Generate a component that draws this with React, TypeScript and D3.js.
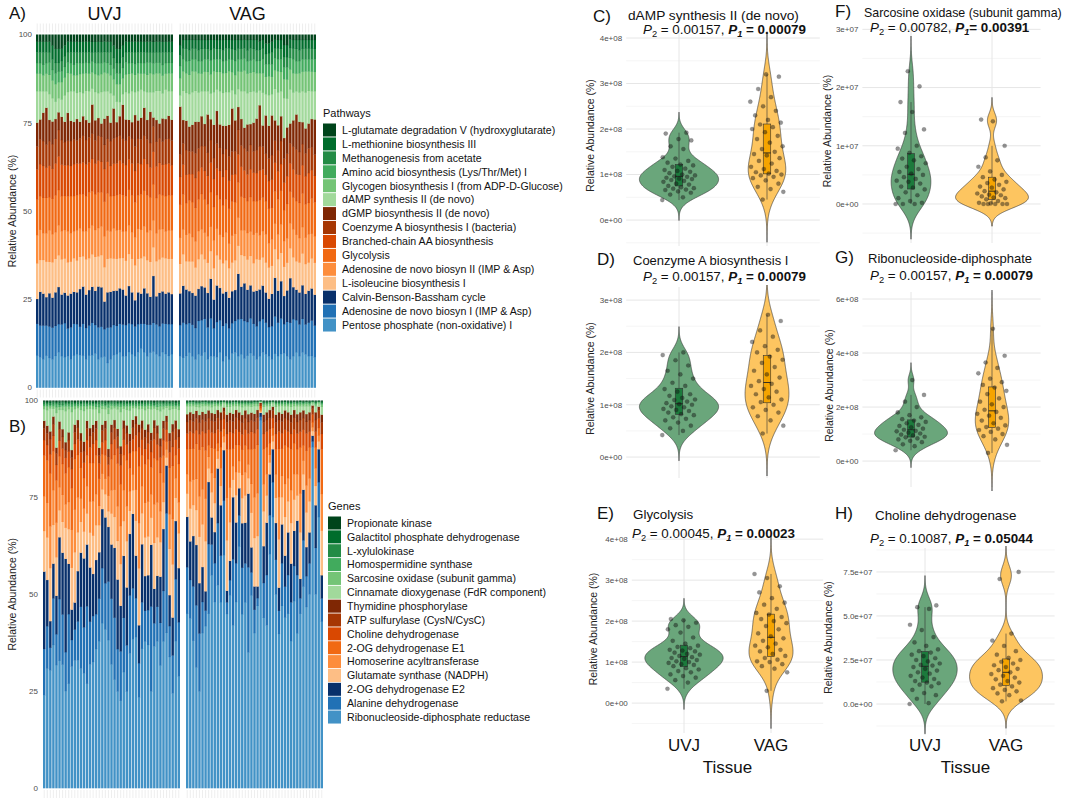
import React, { useRef, useEffect } from "react";
import * as d3 from "d3";

const FONT = "'Liberation Sans', Arial, sans-serif";

// ---------- stacked bar panels (legend order: top of stack first) ----------
const pathwayNames = [
  "L-glutamate degradation V (hydroxyglutarate)",
  "L-methionine biosynthesis III",
  "Methanogenesis from acetate",
  "Amino acid biosynthesis (Lys/Thr/Met) I",
  "Glycogen biosynthesis I (from ADP-D-Glucose)",
  "dAMP synthesis II (de novo)",
  "dGMP biosynthesis II (de novo)",
  "Coenzyme A biosynthesis I (bacteria)",
  "Branched-chain AA biosynthesis",
  "Glycolysis",
  "Adenosine de novo biosyn II (IMP & Asp)",
  "L-isoleucine biosynthesis I",
  "Calvin-Benson-Bassham cycle",
  "Adenosine de novo biosyn I (IMP & Asp)",
  "Pentose phosphate (non-oxidative) I",
];
const geneNames = [
  "Propionate kinase",
  "Galactitol phosphate dehydrogenase",
  "L-xylulokinase",
  "Homospermidine synthase",
  "Sarcosine oxidase (subunit gamma)",
  "Cinnamate dioxygenase (FdR component)",
  "Thymidine phosphorylase",
  "ATP sulfurylase (CysN/CysC)",
  "Choline dehydrogenase",
  "2-OG dehydrogenase E1",
  "Homoserine acyltransferase",
  "Glutamate synthase (NADPH)",
  "2-OG dehydrogenase E2",
  "Alanine dehydrogenase",
  "Ribonucleoside-diphosphate reductase",
];
const stackColors = [
  "#00441b", "#006d2c", "#238b45", "#41ab5d", "#74c476", "#a1d99b",
  "#7f2704", "#a63603", "#d94801", "#f16913", "#fd8d3c", "#fdbe85",
  "#08306b", "#2171b5", "#4292c6",
];
const tissues = ["UVJ", "VAG"];
const stackTicks = [0, 25, 50, 75, 100];

// Panel A, UVJ samples (rows follow pathwayNames)
const pathwaysUVJ: number[][] = [
  [2,2,2,2,2,3,4,4,4,3,2,2,2,2,2, 2,2,2,2,2,2,2,2,2,2,3,4,4,3,2, 2,2,2,2,2,2,2,2,2,2,2,2,2,2,2],
  [3,3,3,3,3,4,4,4,3.5,3,3,3,3,3,3, 3,3,3,3,3,3,3,3,3,3,3.5,4,4,3.5,3, 3,3,3,3,3,3,3,3,3,3,3,3,3,3,3],
  [3,3,3.5,3,3,3,3,2.5,3,3,3,3,3.5,3,3, 3,3,3,2.5,3,3,3,3,3,3.5,3,3,3,3,3, 3,3,3.5,3,3,3,3,3,3,3,3,3.5,3,3,3],
  [3,3,3,3,3.5,3,3,3,3,3,3,3,3,3.5,3, 3,3,3,3,3,3.5,3,3,3,3,3,3,3,3,3.5, 3,3,3,3,3,3,3.5,3,3,3,3,3,3,3,3],
  [5,5,4.5,5,5.5,5,5,4.5,5,5,5.5,5,4.5,5,5, 5.5,5,5,4.5,5,5,5,5.5,5,5,4.5,5,5,4.5,5, 5.5,5,5,5,4.5,5,5,5.5,5,5,5,5,4.5,5,5],
  [8.8,7.9,6,4.6,7.4,6.6,4.9,4,4.9,7.3,6,8.3,8.6,7.4,8.3, 6.5,8.3,8.8,4.4,7.9,7,8.8,7.9,7,8.3,3.6,5.8,4,3,7.9, 7.4,8.8,6.5,8.3,7.9,4.6,7.9,5.6,7,8.3,9.3,7,8.3,7,8.1],
  [6.7,5.6,8,10.4,6.1,6.4,5.6,5,6.6,5.7,8,5.7,4.9,6.1,4.7, 5.5,5.7,4.2,8.1,5.6,5,3.7,7.6,6.5,5.2,8.4,4.2,5.5,9.7,6.1, 4.6,4.7,9,5.2,6.1,7.9,5.6,8.9,2.5,6.2,4.2,6.5,5.7,6.5,5.9],
  [6.5,7,7,6.5,7,7,7,7.5,7,6.5,7,7,7,6.5,7, 7.5,7,7,7,6.5,7,7,7,6.5,7,7,7.5,7,7,7, 6.5,7,7,7,7,6.5,7,7,7,7,7,6.5,7,7,7],
  [8.5,9,9,8.5,9,8.5,9,9.5,9,8.5,9,8.5,9,9,8.5, 9,9,8.5,9,8.5,9,8.5,9.5,9,8.5,9,9,9.5,9,9, 8.5,9,9,9,8.5,9,9,8.5,9,9,9,8.5,9,9,8.5],
  [10,9.5,10,10,9.5,10,10.5,10,10,9.5,10,10.5,10,10,9.5, 10.5,10,10,9.5,10,10,9.5,10,10.5,10,9,10,10,10.5,10, 10,10.5,10,9.5,10,10,10.5,9.5,10,10,10,9.5,10,10,10],
  [8,8.5,7.5,8,9,8,7.5,8.5,8,8,9,8,7.5,8.5,8, 7,8,8.5,8,7.5,8,8,9,8,7.5,8.5,8,8,7.5,8.5, 8,7.5,8,8.5,8,8.5,8,9,7.5,8,8.5,8,7.5,8,8],
  [10,9,9.5,10,9,10,9.5,9,10,9.5,9.5,9,9.5,9,9, 8.5,10,9,9,9.5,8.5,9,10,9.5,9.5,9,9,8.5,9,10, 9,9.5,10,9.5,10,9,9.5,10,8,10,9.5,9.5,10,9.5,10],
  [7,9.5,9,8,9.5,8.5,9.5,10.5,8.5,8.5,9.5,9.5,9,9,10.5, 10.5,9.5,10,10,9.5,11.5,11,8,10,10,9.5,10,10,10,8.5, 10.5,9,7.5,9,8.5,10,9,8,13,8,9.5,9,8.5,9,8.5],
  [9,9,9.5,8.5,9,9,8.5,8,9,9.5,8,9,9,8.5,8, 9,9,8.5,9,8,9,8.5,8,10,9,8.5,8,8,9,9, 8,8.5,8.5,8,7,8,9,8,8,8.5,8.5,8,8.5,9,8.5],
  [9,8.5,8,9,8.5,8,9,10,9,8.5,9,8,9,9.5,9, 9,8,9,9,9.5,8,8.5,9,7,8,9,9.5,10,9,9, 10,9.5,9,10,11,10,9,10,10,9.5,9,10,9.5,9,9.5],
];

// Panel A, VAG samples
const pathwaysVAG: number[][] = [
  [3,1.5,1.5,1.5,1.5,1.5,1.5,1.5,1.5,1.5,1.5,1.5,1.5,1.5,1.5, 1.5,1.5,1.5,1.5,1.5,1.5,1.5,1.5,1.5,1.5,1.5,2,1.5,2.5,2.5, 2,1.5,1.5,1.5,3,3,1.5,1.5,1.5,1.5,1.5,1.5,1.5,1.5,1.5],
  [3,2.5,2.5,3,2.5,2.5,3,2.5,2.5,2.5,3,2.5,2.5,2.5,3, 2.5,2.5,2.5,3,2.5,2.5,2.5,3,2.5,2.5,3,2.5,2.5,3,3, 3,2.5,2.5,2.5,3.5,3.5,2.5,2.5,2.5,3,2.5,2.5,2.5,2.5,2.5],
  [3,3,3.5,3,3,3,3,3.5,3,3,3,3,3,3,3, 3.5,3,3,3,3,3,3,3,3.5,3,3,3,3,3,3, 3.5,3,3,3,3,3,3,3,3.5,3,3,3,3,3,3],
  [3.5,3.5,3.5,4,3.5,3.5,3.5,3.5,3.5,3.5,4,3.5,3.5,3.5,3.5, 3.5,3.5,3.5,4,3.5,3.5,3.5,3.5,3.5,3.5,3.5,3.5,4,3.5,3.5, 3.5,3.5,3.5,3.5,3.5,3.5,3.5,4,3.5,3.5,3.5,3.5,3.5,3.5,3.5],
  [5,5.5,5.5,5.5,6,5.5,5.5,5,5.5,5.5,5.5,6,5,5.5,5.5, 5.5,6,5,5.5,5,5.5,6,5.5,5.5,5.5,5.5,5,5.5,5,5.5, 5,5.5,6,5.5,5.5,5.5,6,5.5,5,5.5,5.5,6,5.5,5.5,5.5],
  [3.2,8.3,7.9,9.3,9.3,8.8,8.3,7,9.3,6.5,7.4,9.3,6,9.3,9.3, 9.7,9.3,5.1,7.4,5.1,7.9,10.7,8.8,9.3,8.8,7.4,4.2,9.3,6,8.8, 6,9.3,9.3,7,11.6,8.3,10.2,7.9,6.5,8.3,8.8,10.2,9.3,7.9,7.9],
  [13.7,6.7,8.3,7.1,7.6,9,7.6,8.4,6.3,10.8,6,9.5,9.2,6.6,8, 6.7,9,12,8.8,6.5,7.5,6,7.6,6,8.1,9,11.7,6,10.9,9.5, 11.3,6,7.1,7,6,7.6,6,7.5,9.9,8.6,6.2,7.1,7.1,8,9.9],
  [6.5,6,7,6.5,6.5,7,6.5,6,7,6.5,6.5,6,7,6.5,6.5, 6,7,6.5,6.5,7,6,6.5,6.5,7,6,6.5,7,6.5,6,6.5, 7,6.5,6,6.5,7,6.5,6,6.5,7,6.5,6,6.5,7,6.5,6],
  [8,8.5,8,7.5,8,8.5,8,7.5,8,8,8.5,8,7.5,8,8, 8.5,8,7.5,8,8,8.5,8,7.5,8,8,8,8.5,8,7.5,8, 8,8.5,8,7.5,8,8,8.5,8,7.5,8,8,8,8.5,8,7.5],
  [9.5,10,9,9.5,10,9.5,9,10,9.5,9,10,9.5,9.5,10,9, 9.5,10,9.5,9,10,9.5,9.5,9,10,9.5,9,10,9.5,9.5,10, 9,9.5,10,9.5,9,10,9.5,9,9.5,10,9.5,9.5,9,10,9.5],
  [7.5,7,7.5,8,7,7.5,8,7,7.5,7.5,7,8,7.5,7,7.5, 8,7,7.5,7.5,8,7,7.5,7.5,7,8,7.5,7,7.5,8,7, 7.5,7.5,7,8,7.5,7,7.5,8,7.5,7,7.5,7.5,8,7,7.5],
  [8.5,9,8,8.5,9,8,8.5,9,8,8.5,8,9,8.5,8,8.5, 9,8.5,8,8.5,8,9,8,8.5,8.5,8,9,8.5,8,8.5,9, 8,8.5,9,8,8.5,8,9,8.5,8,8.5,9,8.5,8,8.5,9],
  [9.1,10.5,9.8,9.1,9.1,9.2,9.1,9.6,8.9,9.7,11.4,8.2,10.3,9.1,9.2, 9.1,8.7,8.9,8.8,12.9,9.1,11,9.1,9.5,9.1,10.1,9.1,9.5,8.6,8.2, 9.2,11.4,9.1,10.5,8.2,9.1,13.4,9.1,8.6,9.1,9.5,8.7,9.1,9.1,8.7],
  [9,10,9,8.5,9,9,9.5,10,9.5,9,11,8,10,9,10, 9.5,9,8.5,9,10.5,10,11,9.5,10,9,9.5,10,9.5,9,8.5, 9.5,11,9.5,10,8.5,10,11,10.5,9,9,9.5,8.5,9.5,10,9],
  [9,8.5,9,10,9,8,9.5,9,10,8,9,9,8.5,10,7.5, 9,8,9.5,10,9,9.5,8.5,9,10,9,8,9,10,9.5,9, 8,10,9,9.5,10,9,8.5,9,10,9,10,9.5,9,9,8.5],
];

// Panel B, UVJ samples (rows follow geneNames)
const genesUVJ: number[][] = [
  [0.2,0.3,0.2,0.2,0.3,0.2,0.2,0.3,0.2,0.2,0.3,0.2,0.2,0.2,0.3, 0.2,0.2,0.3,0.2,0.2,0.2,0.3,0.2,0.2,0.2,0.3,0.2,0.2,0.3,0.2, 0.2,0.2,0.3,0.2,0.2,0.2,0.3,0.2,0.2,0.3,0.2,0.2,0.2,0.3,0.2],
  [0.3,0.3,0.4,0.3,0.3,0.5,0.3,0.3,0.4,0.3,0.3,0.3,0.4,0.3,0.3, 0.3,0.4,0.3,0.3,0.3,0.5,0.3,0.3,0.3,0.4,0.3,0.3,0.4,0.3,0.3, 0.3,0.4,0.3,0.3,0.3,0.3,0.4,0.3,0.3,0.3,0.3,0.4,0.3,0.3,0.3],
  [0.4,0.3,0.5,0.4,0.3,0.4,0.6,0.3,0.4,0.4,0.3,0.5,0.4,0.3,0.4, 0.4,0.3,0.4,0.5,0.3,0.4,0.4,0.3,0.5,0.4,0.3,0.4,0.4,0.3,0.4, 0.5,0.3,0.4,0.4,0.3,0.4,0.4,0.5,0.3,0.4,0.4,0.3,0.4,0.5,0.4],
  [0.5,0.6,0.4,0.5,0.8,0.5,0.4,0.6,0.5,0.7,0.5,0.4,0.5,0.6,0.5, 0.4,0.5,0.6,0.7,0.5,0.4,0.8,0.5,0.4,0.5,0.7,0.5,0.5,0.6,0.4, 0.5,0.5,0.4,0.6,0.5,0.5,0.4,0.6,0.7,0.5,0.4,0.5,0.5,0.4,0.6],
  [0.8,1,0.6,0.7,1.5,0.8,0.9,1.2,0.7,1.4,0.8,0.6,0.9,1.3,0.7, 0.8,0.9,0.6,1.5,0.8,0.7,1.6,0.9,0.6,0.8,1.4,0.7,0.9,1.1,0.6, 0.5,0.9,0.7,1,0.8,0.9,0.6,0.8,1.3,0.7,0.5,1,0.8,0.6,0.9],
  [3,4,6,2,9,3,5,8,6,10,4,3,6,8,3, 5,4,3,9,4,3,9,4,3,5,9,3,4,6,3, 2,4,3,5,4,6,3,4,7,3,2,6,4,3,5],
  [2,2,2,2,1.5,2,2,2,2,2,2,2,2,2.5,2, 2,2,2,2,1.5,2,2,2,2,2,2,2,2,2,2, 2,2,2,2,2,2,2,2,2,2,1.5,2,2,2,2],
  [3,3,4,3,3,3,3,2,3,3,3,3,3,3,3, 3,3,3,2,3,3,2,3,3,3,3,3,3,3,3, 3,4,3,3,3,3,3,3,3,3,2,3,4,3,3],
  [4,4,5,4,4,4,4,4,4,5,4,4,4,4,4, 4,5,4,4,3,4,3,4,4,4,5,4,4,4,3, 4,5,4,4,4,4,5,4,4,4,3,4,5,4,4],
  [10.5,11,14,10,11,8,8,8,9,11,13,11,8,8,8, 10,10,10,7,5,6,5,8,9,11,11,9,12,6,6, 10,15,8,10,11,7,12,11,10,7,2,12,14,6,10],
  [9,9,11,9,9,6,7,6,7,10,11,9,6,6,7, 8,9,8,5,4,4,4,6,7,9,10,8,9,5,4, 8,12,7,9,9,6,10,9,8,5,2,9,12,5,8],
  [10.5,11,14,10,10,7,8,8,9,11,13,10,8,7,8, 9,10,9,7,5,6,4,8,8,10,11,9,12,6,6, 9,15,8,10,10,7,12,10,9,7,2,12,14,6,9],
  [20,12,7,9,10,16,16,24,13,8,7,13,14,18,16, 14,11,14,12,15,17,14,14,18,18,12,16,15,16,19, 11,10,15,9,9,16,9,8,12,16,12,8,10,15,14],
  [12,11,6,12,8,16,13,10,18,7,8,10,16,12,20, 11,12,9,11,14,12,15,17,16,11,13,14,12,15,13, 10,9,12,8,9,22,6,9,11,13,30,8,10,16,14],
  [24,31,31,37,32,33,32,25,27,32,33,33,31,30,27, 32,33,36,38,42,41,38,32,28,25,23,30,25,35,38, 39,24,36,38,37,25,37,38,32,38,39,34,25,38,29],
];

// Panel B, VAG samples
const genesVAG: number[][] = [
  [0.2,0.2,0.1,0.2,0.2,0.2,0.1,0.2,0.2,0.2,0.2,0.1,0.1,0.2,0.2, 0.2,0.1,0.2,0.2,0.2,0.2,0.2,0.1,0.2,0.05,0.2,0.2,0.2,0.1,0.2, 0.2,0.2,0.1,0.2,0.2,0.2,0.2,0.1,0.2,0.2,0.2,0.1,0.2,0.1,0.2],
  [0.2,0.1,0.2,0.2,0.2,0.1,0.2,0.2,0.2,0.1,0.2,0.2,0.1,0.2,0.2, 0.1,0.2,0.2,0.2,0.1,0.2,0.2,0.2,0.1,0.05,0.2,0.2,0.1,0.1,0.2, 0.2,0.1,0.2,0.2,0.2,0.1,0.2,0.2,0.2,0.1,0.2,0.1,0.2,0.1,0.2],
  [0.2,0.2,0.2,0.3,0.2,0.2,0.2,0.2,0.3,0.2,0.2,0.2,0.1,0.2,0.3, 0.2,0.2,0.2,0.2,0.3,0.2,0.2,0.2,0.2,0.05,0.3,0.2,0.2,0.1,0.2, 0.2,0.3,0.2,0.2,0.2,0.2,0.3,0.2,0.2,0.2,0.2,0.1,0.2,0.1,0.3],
  [0.3,0.3,0.4,0.3,0.3,0.3,0.4,0.3,0.3,0.3,0.3,0.4,0.15,0.3,0.3, 0.4,0.3,0.3,0.3,0.3,0.4,0.3,0.3,0.3,0.05,0.3,0.4,0.3,0.15,0.3, 0.3,0.3,0.4,0.3,0.3,0.3,0.3,0.4,0.3,0.3,0.3,0.15,0.3,0.15,0.3],
  [0.6,0.7,0.5,0.6,0.8,0.6,0.5,0.6,0.7,0.6,0.5,0.6,0.3,0.7,0.6, 0.5,0.6,0.6,0.8,0.6,0.5,0.7,0.6,0.6,0.05,0.6,0.5,0.6,0.3,0.7, 0.6,0.5,0.6,0.6,0.7,0.6,0.5,0.6,0.6,0.7,0.6,0.3,0.6,0.3,0.6],
  [2,1.5,2,1,2,1.5,2,1,1.5,2,1,1.5,1,2,1.5, 2,1,1.5,2,1,2,1.5,2,1,0.3,2,1.5,1,0.8,2, 1.5,2,1,1.5,2,1,2,1.5,1,2,1.5,0.5,1.5,0.8,2],
  [2,2,2,2,2,2,2,2,2,2,2,2,1,2,2, 2,2,2,2,2,2,2,2,2,0.3,2,2,2,1,2, 2,2,2,2,2,2,2,2,2,2,2,0.8,2,1,2],
  [3,3,3,3,3,3,3,3,3,3,3,3,2,3,3, 3,3,3,3,3,3,3,3,3,0.5,3,3,3,2,3, 3,3,3,3,3,3,3,3,3,3,3,1.5,3,2,3],
  [4,4.5,4,3.5,4,4,4.5,4,4,4,3.5,4,2.5,4,4.5, 4,4,3.5,4,4,4,4.5,4,4,0.6,4,4,3.5,2.5,4, 4.5,4,4,4,4,3.5,4,4,4,4.5,4,2,4,2.5,4],
  [6.5,8.5,8,9,12,11,12.5,3,6.5,7.5,2,5.5,2,12.5,10, 4.5,7,4,6.5,7,4,9,12.5,12.5,0.6,9,7,3,2,6.5, 12.5,7,10,8,10.5,8,6.5,12,4,9,8,1.3,5.5,2,11.5],
  [5,7,6.5,8,10.5,9,11,3,5,6.5,2,4.5,1.5,11,9, 3.5,6,3,6,6,3.5,7.5,10.5,11,0.3,7,5.5,2,1.5,6, 11,5.5,8.5,6,8.5,6.5,5.5,10,3.5,7,6,1,4.5,1.5,9.5],
  [6,8.5,8,9,12,11,13,3.5,6.5,7.5,2.5,5,2,13,10, 4.5,7,4,6.5,7,4,9,12.5,13,0.3,9,7,3,2,6.5, 12.5,7,10,8,10.5,8,6.5,12,4,9,8,1.2,5,2,11.5],
  [13,10,13,15.5,13,9,5,16,7,8,14,13,13,3,5, 16,10.5,7,11.5,10.5,19,6.5,6,3,1,9.5,13.5,10.5,8.5,9.5, 6,10,8,11,10,9,14,5,13,7.5,8,1.5,11,8.5,6],
  [12,10,14,16,15,8,4,18,8,10,16,12,14,3,4, 17,10,8,12,10,22,6,6,2,1,9,13,10,9,9, 6,11,8,10,10,9,15,4,12,8,8,1.5,12,9,6],
  [45,44,38,31,25,40,42,45,55,48,52,48,60,45,50, 42,48,62,45,48,35,50,40,47,95,44,42,60,70,50, 40,47,44,45,38,48,40,45,52,47,50,88,50,70,43],
];

// ---------- violin panels: abundance per sample ----------
const dampUVJ = [0.44,0.5,0.56,0.6,0.63,0.66,0.67,0.69,0.7,0.72,0.75,0.78,0.8,0.84,0.86,0.88,0.9,0.91,0.93,0.95,0.96,0.98,1.0,1.03,1.06,1.08,1.1,1.13,1.17,1.2,1.22,1.26,1.3,1.35,1.38,1.56,1.62,1.75,1.78,1.9,1.92];
const dampVAG = [0.45,0.62,0.68,0.73,0.8,0.87,0.92,0.95,0.98,1.0,1.02,1.05,1.08,1.12,1.17,1.24,1.3,1.36,1.42,1.45,1.5,1.56,1.62,1.7,1.78,1.85,1.93,2.0,2.04,2.1,2.14,2.2,2.3,2.4,2.5,2.6,2.7,2.88,3.15,3.2];
const coaUVJ = [0.42,0.5,0.55,0.6,0.66,0.7,0.73,0.76,0.8,0.82,0.85,0.88,0.9,0.92,0.95,0.97,1.0,1.01,1.03,1.06,1.09,1.1,1.13,1.17,1.2,1.25,1.3,1.36,1.42,1.5,1.58,1.65,1.75,1.85,1.95,2.0];
const coaVAG = [0.45,0.6,0.7,0.78,0.85,0.9,0.95,1.0,1.05,1.1,1.14,1.2,1.25,1.3,1.36,1.4,1.45,1.52,1.58,1.65,1.72,1.8,1.86,1.92,2.0,2.05,2.12,2.2,2.3,2.42,2.6,2.72];
const glyUVJ = [0.35,0.5,0.56,0.62,0.66,0.7,0.75,0.78,0.82,0.85,0.9,0.93,0.95,0.98,1.0,1.02,1.05,1.08,1.1,1.12,1.15,1.18,1.2,1.23,1.26,1.28,1.3,1.34,1.37,1.4,1.45,1.52,1.6,1.72,1.8,1.86,1.9,1.96,2.02,2.05];
const glyVAG = [0.3,0.75,0.84,0.9,0.95,1.0,1.02,1.06,1.1,1.15,1.2,1.26,1.3,1.36,1.4,1.45,1.52,1.58,1.63,1.7,1.8,1.88,1.95,2.0,2.05,2.1,2.16,2.2,2.3,2.4,2.45,2.56,2.7,2.85,3.05,3.15];
const sarcUVJ = [0,0,0,0.02,0.05,0.1,0.15,0.2,0.25,0.28,0.3,0.35,0.38,0.4,0.43,0.46,0.5,0.52,0.55,0.6,0.64,0.7,0.75,0.78,0.82,0.88,0.95,1.0,1.22,1.28,1.58,1.75,2.02,2.28];
const sarcVAG = [0,0,0,0,0,0.01,0.02,0.05,0.08,0.1,0.11,0.13,0.15,0.16,0.18,0.2,0.22,0.25,0.28,0.3,0.33,0.36,0.38,0.42,0.46,0.5,0.56,0.64,0.75,0.8,1.0,1.42,1.45];
const ribUVJ = [0.4,0.55,0.62,0.7,0.75,0.8,0.84,0.88,0.9,0.95,0.98,1.02,1.05,1.1,1.12,1.16,1.2,1.25,1.3,1.34,1.4,1.45,1.5,1.55,1.62,1.7,1.8,2.0,2.2,2.45,3.0];
const ribVAG = [0.3,0.6,0.8,0.92,1.0,1.08,1.15,1.2,1.26,1.32,1.4,1.5,1.6,1.68,1.75,1.82,1.9,2.0,2.1,2.2,2.32,2.48,2.6,2.72,2.82,2.92,3.05,3.25,3.45,3.65,3.9,4.9];
const choUVJ = [0,0.05,0.3,0.5,0.62,0.8,1.0,1.1,1.18,1.22,1.3,1.42,1.5,1.6,1.72,1.8,1.9,2.0,2.1,2.18,2.22,2.3,2.42,2.5,2.6,2.72,2.8,2.92,3.0,3.1,3.3,3.5,3.8,4.2,4.5,5.4,5.5,5.6];
const choVAG = [0.15,0.2,0.5,0.6,0.72,0.8,0.9,1.0,1.1,1.22,1.3,1.4,1.5,1.6,1.7,1.8,1.92,2.0,2.1,2.2,2.3,2.4,2.5,2.62,2.8,3.0,3.3,3.6,4.0,7.1,7.5];

interface ViolinPanel {
  letter: string; title: string; titleSize: number; p2: string; p1: string; p1sep: string;
  uvj: number[]; vag: number[]; unit: number; ticks: number[]; digits: number;
  c1: number; c2: number; top: number; bottom: number; lo: number; hi: number;
  letterX: number; letterY: number; titleX: number; titleY: number;
  subX: number; subY: number; yTitleX: number; xLabels: boolean;
}

const violinPanels: ViolinPanel[] = [
  { letter: "C)", title: "dAMP synthesis II (de novo)", titleSize: 13.7, p2: "0.00157", p1: "0.00079", p1sep: " = ",
    uvj: dampUVJ, vag: dampVAG, unit: 1e8, ticks: [0, 1, 2, 3, 4], digits: 0,
    c1: 679, c2: 767, top: 33, bottom: 246, lo: -0.57, hi: 4.11,
    letterX: 593, letterY: 22, titleX: 628, titleY: 20, subX: 643, subY: 34, yTitleX: 590, xLabels: false },
  { letter: "D)", title: "Coenzyme A biosynthesis I", titleSize: 13, p2: "0.00157", p1: "0.00079", p1sep: " = ",
    uvj: coaUVJ, vag: coaVAG, unit: 1e8, ticks: [0, 1, 2, 3], digits: 0,
    c1: 679, c2: 767, top: 287, bottom: 478, lo: -0.4, hi: 3.25,
    letterX: 597, letterY: 265, titleX: 633, titleY: 265, subX: 643, subY: 281, yTitleX: 590, xLabels: false },
  { letter: "E)", title: "Glycolysis", titleSize: 13.4, p2: "0.00045", p1: "0.00023", p1sep: " = ",
    uvj: glyUVJ, vag: glyVAG, unit: 1e8, ticks: [0, 1, 2, 3, 4], digits: 0,
    c1: 684, c2: 771, top: 533, bottom: 733, lo: -0.73, hi: 4.15,
    letterX: 597, letterY: 519, titleX: 633, titleY: 519, subX: 632, subY: 538, yTitleX: 593, xLabels: true },
  { letter: "F)", title: "Sarcosine oxidase (subunit gamma)", titleSize: 12.4, p2: "0.00782", p1: "0.00391", p1sep: "= ",
    uvj: sarcUVJ, vag: sarcVAG, unit: 1e7, ticks: [0, 1, 2, 3], digits: 0,
    c1: 911, c2: 992, top: 27, bottom: 243, lo: -0.67, hi: 3.04,
    letterX: 835, letterY: 17, titleX: 864, titleY: 17, subX: 870, subY: 32, yTitleX: 827, xLabels: false },
  { letter: "G)", title: "Ribonucleoside-diphosphate", titleSize: 13, p2: "0.00157", p1: "0.00079", p1sep: " = ",
    uvj: ribUVJ, vag: ribVAG, unit: 1e8, ticks: [0, 2, 4, 6], digits: 0,
    c1: 911, c2: 992, top: 292, bottom: 487, lo: -0.96, hi: 6.26,
    letterX: 835, letterY: 263, titleX: 868, titleY: 263, subX: 870, subY: 280, yTitleX: 829, xLabels: false },
  { letter: "H)", title: "Choline dehydrogenase", titleSize: 13.4, p2: "0.10087", p1: "0.05044", p1sep: " = ",
    uvj: choUVJ, vag: choVAG, unit: 1e7, ticks: [0, 2.5, 5, 7.5], digits: 1,
    c1: 925, c2: 1006, top: 548, bottom: 735, lo: -1.76, hi: 8.86,
    letterX: 835, letterY: 519, titleX: 875, titleY: 520, subX: 870, subY: 543, yTitleX: 828, xLabels: true },
];

const violinFill = ["#6aa67b", "#fdc560"];
const boxFill = ["#1c7a3c", "#f5a400"];

type Sel = d3.Selection<SVGGElement, unknown, null, undefined>;

function sci(v: number, digits: number) {
  return v.toExponential(digits).replace(/e([+-])(\d)$/, "e$10$2");
}

function drawStacked(
  g: Sel,
  rowsByTissue: number[][][],
  names: string[],
  cfg: { facets: number[][]; yTop: number; yBot: number; tickRight: number; yTitleX: number;
    letter: string; letterY: number; strips: boolean; legendTitle: string; legX: number; legY0: number; legStep: number }
) {
  const y = d3.scaleLinear().domain([0, 100]).range([cfg.yBot, cfg.yTop]);
  const keys = d3.range(names.length).reverse(); // stack bottom first

  rowsByTissue.forEach((rows, t) => {
    const n = rows[0].length;
    const table = d3.range(n).map((i) => {
      const o: Record<string, number> = {};
      keys.forEach((k) => (o[String(k)] = rows[k][i] ?? 0));
      return o;
    });
    const series = d3.stack<Record<string, number>>()
      .keys(keys.map(String))
      .offset(d3.stackOffsetExpand)(table);
    const [x0, x1] = cfg.facets[t];
    const x = d3.scaleBand<number>().domain(d3.range(n)).range([x0, x1]).paddingInner(0.2);

    // faint sample ticks
    const tickYs = cfg.strips ? [[cfg.yTop - 11, cfg.yTop - 2], [cfg.yBot + 2, cfg.yBot + 10]] : [[cfg.yBot + 2, cfg.yBot + 10]];
    tickYs.forEach(([a, b]) => {
      g.append("g").selectAll("line").data(d3.range(n)).join("line")
        .attr("x1", (i) => (x(i) as number) + x.bandwidth() / 2)
        .attr("x2", (i) => (x(i) as number) + x.bandwidth() / 2)
        .attr("y1", a).attr("y2", b)
        .attr("stroke", "#e3e3e3").attr("stroke-width", 0.6);
    });

    g.append("g").selectAll("g").data(series).join("g")
      .attr("fill", (s) => stackColors[+s.key])
      .selectAll("rect").data((s) => s.map((d, i) => ({ d, i }))).join("rect")
      .attr("x", (p) => x(p.i) as number)
      .attr("width", x.bandwidth())
      .attr("y", (p) => y(p.d[1] * 100))
      .attr("height", (p) => y(p.d[0] * 100) - y(p.d[1] * 100) + 0.3);

    if (cfg.strips) {
      g.append("text").attr("x", (x0 + x1) / 2).attr("y", 20)
        .attr("text-anchor", "middle").attr("font-size", 18).attr("fill", "#111")
        .text(tissues[t]);
    }
  });

  g.append("g").selectAll("text").data(stackTicks).join("text")
    .attr("x", cfg.tickRight).attr("y", (d) => y(d)).attr("dy", "0.35em")
    .attr("text-anchor", "end").attr("font-size", 8).attr("fill", "#4d4d4d")
    .text((d) => String(d));

  g.append("text")
    .attr("transform", `translate(${cfg.yTitleX},${(cfg.yTop + cfg.yBot) / 2}) rotate(-90)`)
    .attr("text-anchor", "middle").attr("dominant-baseline", "central")
    .attr("font-size", 10.5).attr("fill", "#222").text("Relative Abundance (%)");

  g.append("text").attr("x", 9).attr("y", cfg.letterY).attr("font-size", 17).attr("fill", "#111").text(cfg.letter);

  // legend
  const leg = g.append("g");
  leg.append("text").attr("x", cfg.legX).attr("y", cfg.legY0 - 13).attr("font-size", 11).attr("fill", "#111").text(cfg.legendTitle);
  names.forEach((nm, k) => {
    const cy = cfg.legY0 + k * cfg.legStep;
    leg.append("rect").attr("x", cfg.legX).attr("y", cy - 6.5).attr("width", 13).attr("height", 13).attr("fill", stackColors[k]);
    leg.append("text").attr("x", cfg.legX + 19).attr("y", cy).attr("dy", "0.36em")
      .attr("font-size", 10.6).attr("fill", "#111").text(nm);
  });
}

function density(values: number[]) {
  const s = values.slice().sort(d3.ascending);
  const sd = d3.deviation(s) as number;
  const iqr = (d3.quantile(s, 0.75) as number) - (d3.quantile(s, 0.25) as number);
  const bw = 0.9 * Math.min(sd, iqr / 1.34) * Math.pow(s.length, -0.2);
  const from = s[0] - 3 * bw;
  const to = s[s.length - 1] + 3 * bw;
  const grid = d3.range(256).map((i) => from + ((to - from) * i) / 255);
  return grid.map((v) => ({
    v,
    d: d3.mean(s, (p) => Math.exp(-0.5 * ((v - p) / bw) ** 2) / Math.sqrt(2 * Math.PI)) as number / bw,
  }));
}

let clipCount = 0;

function drawViolin(g: Sel, p: ViolinPanel) {
  const band = p.c2 - p.c1;
  const left = p.c1 - 0.6 * band;
  const right = p.c2 + 0.6 * band;
  const y = d3.scaleLinear().domain([p.lo, p.hi]).range([p.bottom, p.top]);

  const clipId = `vclip${clipCount++}`;
  g.append("clipPath").attr("id", clipId).append("rect")
    .attr("x", left - 10).attr("y", p.top - 2).attr("width", right - left + 20).attr("height", p.bottom - p.top + 6);

  // grid
  const step = p.ticks[1] - p.ticks[0];
  const minor: number[] = [];
  for (let v = p.ticks[0] - step / 2; v <= p.hi; v += step) if (v >= p.lo) minor.push(v);
  g.append("g").selectAll("line").data(minor).join("line")
    .attr("x1", left).attr("x2", right).attr("y1", (d) => y(d)).attr("y2", (d) => y(d))
    .attr("stroke", "#f0f0f0").attr("stroke-width", 0.7);
  g.append("g").selectAll("line").data(p.ticks).join("line")
    .attr("x1", left).attr("x2", right).attr("y1", (d) => y(d)).attr("y2", (d) => y(d))
    .attr("stroke", "#e6e6e6").attr("stroke-width", 1);
  g.append("g").selectAll("line").data([p.c1, p.c2]).join("line")
    .attr("x1", (d) => d).attr("x2", (d) => d).attr("y1", p.top).attr("y2", p.bottom)
    .attr("stroke", "#e6e6e6").attr("stroke-width", 1);

  // tick labels
  g.append("g").selectAll("text").data(p.ticks).join("text")
    .attr("x", left - 4).attr("y", (d) => y(d)).attr("dy", "0.35em")
    .attr("text-anchor", "end").attr("font-size", 8).attr("fill", "#4d4d4d")
    .text((d) => sci(d * p.unit, p.digits));

  const groups = [p.uvj, p.vag];
  const centers = [p.c1, p.c2];
  const dens = groups.map(density);
  const maxD = d3.max(dens, (ds) => d3.max(ds, (d) => d.d)) as number;
  const w = d3.scaleLinear().domain([0, maxD]).range([0, 0.45 * band]);
  const marks = g.append("g").attr("clip-path", `url(#${clipId})`);

  groups.forEach((vals, gi) => {
    const c = centers[gi];
    const area = d3.area<{ v: number; d: number }>()
      .y((d) => y(d.v))
      .x0((d) => c - w(d.d))
      .x1((d) => c + w(d.d))
      .curve(d3.curveBasis);
    marks.append("path").datum(dens[gi]).attr("d", area)
      .attr("fill", violinFill[gi]).attr("stroke", "#333").attr("stroke-width", 0.6);

    // box
    const s = vals.slice().sort(d3.ascending);
    const q1 = d3.quantile(s, 0.25) as number;
    const med = d3.quantile(s, 0.5) as number;
    const q3 = d3.quantile(s, 0.75) as number;
    const iqr = q3 - q1;
    const lo = d3.min(s.filter((v) => v >= q1 - 1.5 * iqr)) as number;
    const hi = d3.max(s.filter((v) => v <= q3 + 1.5 * iqr)) as number;
    const bw = 0.085 * band;
    marks.append("line").attr("x1", c).attr("x2", c).attr("y1", y(hi)).attr("y2", y(q3)).attr("stroke", "#333").attr("stroke-width", 0.6);
    marks.append("line").attr("x1", c).attr("x2", c).attr("y1", y(q1)).attr("y2", y(lo)).attr("stroke", "#333").attr("stroke-width", 0.6);
    marks.append("rect").attr("x", c - bw / 2).attr("width", bw).attr("y", y(q3)).attr("height", y(q1) - y(q3))
      .attr("fill", boxFill[gi]).attr("stroke", "#333").attr("stroke-width", 0.6);
    marks.append("line").attr("x1", c - bw / 2).attr("x2", c + bw / 2).attr("y1", y(med)).attr("y2", y(med))
      .attr("stroke", "#222").attr("stroke-width", 0.9);

    // jittered points (deterministic spread)
    marks.append("g").selectAll("circle").data(vals).join("circle")
      .attr("cx", (_d, i) => c + (((i * 0.6180339887 + gi * 0.37) % 1) - 0.5) * 0.38 * band)
      .attr("cy", (d) => y(d))
      .attr("r", 2.1).attr("fill", "#111").attr("fill-opacity", 0.45)
      .attr("stroke", "#111").attr("stroke-opacity", 0.3).attr("stroke-width", 0.4);
  });

  // y title
  g.append("text")
    .attr("transform", `translate(${p.yTitleX},${(p.top + p.bottom) / 2 - 4}) rotate(-90)`)
    .attr("text-anchor", "middle").attr("dominant-baseline", "central")
    .attr("font-size", 10.5).attr("fill", "#222").text("Relative Abundance (%)");

  // letters and titles
  g.append("text").attr("x", p.letterX).attr("y", p.letterY).attr("font-size", 17).attr("fill", "#111").text(p.letter);
  g.append("text").attr("x", p.titleX).attr("y", p.titleY).attr("font-size", p.titleSize).attr("fill", "#111").text(p.title);
  const sub = g.append("text").attr("x", p.subX).attr("y", p.subY).attr("font-size", 13.4).attr("fill", "#111")
    .style("white-space", "pre");
  sub.append("tspan").attr("font-style", "italic").text("P");
  sub.append("tspan").attr("font-size", 9.3).attr("dy", 3.2).text("2");
  sub.append("tspan").attr("dy", -3.2).text(` = ${p.p2}, `);
  sub.append("tspan").attr("font-style", "italic").attr("font-weight", "bold").text("P");
  sub.append("tspan").attr("font-size", 9.3).attr("dy", 3.2).attr("font-style", "italic").attr("font-weight", "bold").text("1");
  sub.append("tspan").attr("dy", -3.2).attr("font-weight", "bold").text(`${p.p1sep}${p.p1}`);

  if (p.xLabels) {
    g.append("g").selectAll("text").data(tissues).join("text")
      .attr("x", (_d, i) => centers[i]).attr("y", 751)
      .attr("text-anchor", "middle").attr("font-size", 17).attr("fill", "#111").text((d) => d);
    g.append("text").attr("x", (left + right) / 2).attr("y", 773)
      .attr("text-anchor", "middle").attr("font-size", 17).attr("fill", "#111").text("Tissue");
  }
}

function drawAll(svgEl: SVGSVGElement) {
  const svg = d3.select(svgEl);
  svg.selectAll("*").remove();
  clipCount = 0;
  svg.append("rect").attr("width", 1065).attr("height", 798).attr("fill", "#fff");
  const root = svg.append("g").attr("font-family", FONT) as unknown as Sel;

  drawStacked(root.append("g"), [pathwaysUVJ, pathwaysVAG], pathwayNames, {
    facets: [[36, 173], [179, 316]], yTop: 34.5, yBot: 387.5, tickRight: 32, yTitleX: 12,
    letter: "A)", letterY: 19, strips: true, legendTitle: "Pathways", legX: 323, legY0: 130, legStep: 13.93,
  });
  drawStacked(root.append("g"), [genesUVJ, genesVAG], geneNames, {
    facets: [[43, 180], [186, 323]], yTop: 400.5, yBot: 788, tickRight: 38, yTitleX: 12,
    letter: "B)", letterY: 432, strips: false, legendTitle: "Genes", legX: 328, legY0: 523, legStep: 13.86,
  });

  violinPanels.forEach((p) => drawViolin(root.append("g"), p));
}

export default function App() {
  const ref = useRef<SVGSVGElement>(null);
  useEffect(() => {
    if (ref.current == null) return;
    drawAll(ref.current);
  }, []);
  return (
    <svg
      ref={ref}
      width={1065}
      height={798}
      style={{ position: "absolute", left: 0, top: 0, background: "#fff" }}
    />
  );
}
